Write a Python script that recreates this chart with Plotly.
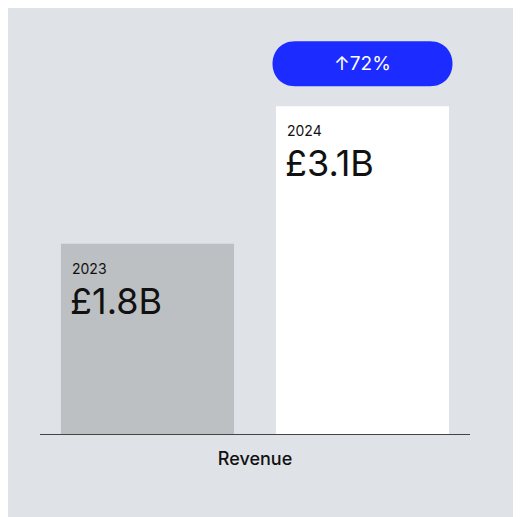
import plotly.graph_objects as go

categories = ["2023", "2024"]
values = [1.8, 3.1]
value_labels = ["£1.8B", "£3.1B"]
bar_colors = ["#bcc0c2", "#ffffff"]
growth_label = "↑72%"
axis_label = "Revenue"

bg = "#dfe2e7"
W = 0.805
fig = go.Figure(go.Bar(x=[0, 1], y=values, width=W, marker_color=bar_colors,
                       marker_line_width=0, hoverinfo="skip"))

ann = []
for i, (c, v, lab) in enumerate(zip(categories, values, value_labels)):
    ann.append(dict(x=i - W / 2, y=v, xref="x", yref="y", text=c, showarrow=False,
                    xanchor="left", yanchor="top", xshift=9, yshift=-14,
                    font=dict(size=14, color="#111", family="Inter")))
    ann.append(dict(x=i - W / 2, y=v, xref="x", yref="y", text=lab, showarrow=False,
                    xanchor="left", yanchor="top", xshift=7, yshift=-33,
                    font=dict(size=36, color="#111", family="Inter")))

# rounded pill above the 2024 bar
r = 22.5
w2 = 90
y0, y1 = 20, 65
k = r * 4 / 3
path = (f"M {-w2 + r},{y0} L {w2 - r},{y0} "
        f"C {w2 - r + k},{y0} {w2 - r + k},{y1} {w2 - r},{y1} "
        f"L {-w2 + r},{y1} "
        f"C {-w2 + r - k},{y1} {-w2 + r - k},{y0} {-w2 + r},{y0} Z")
fig.add_shape(type="path", xsizemode="pixel", ysizemode="pixel", xanchor=1,
              yanchor=values[1], xref="x", yref="y", path=path,
              fillcolor="#1c2bff", line_width=0)
ann.append(dict(x=1, y=values[1], xref="x", yref="y", text=growth_label, showarrow=False,
                yshift=42.5, font=dict(size=19, color="white", family="Inter")))

fig.update_layout(
    width=513, height=509, paper_bgcolor=bg, plot_bgcolor=bg,
    margin=dict(l=32, r=51, t=3, b=83), showlegend=False, annotations=ann,
    xaxis=dict(range=[-0.5, 1.5], showticklabels=False, showgrid=False, zeroline=False,
               showline=True, linecolor="#444", linewidth=1.2, ticks="",
               title=dict(text=axis_label, standoff=18,
                          font=dict(size=18, color="#111", family="Inter", weight=500))),
    yaxis=dict(range=[0, 4], visible=False),
)
fig.write_html("out.html")
